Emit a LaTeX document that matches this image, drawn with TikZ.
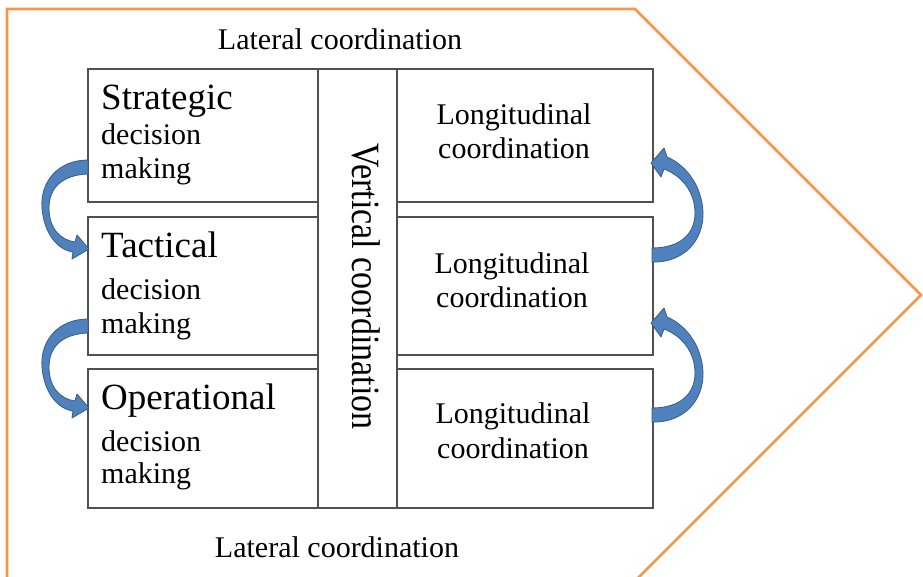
\documentclass[tikz,border=0pt]{standalone}
\usepackage{fontspec}
\newfontfamily\timesface{Liberation Serif}
\usetikzlibrary{calc}

\definecolor{frameorange}{HTML}{F79646}
\definecolor{bendfill}{HTML}{4F81BD}
\definecolor{bendedge}{HTML}{385D8A}
\definecolor{cellline}{HTML}{505050}

\begin{document}
\begin{tikzpicture}[
  x=1pt, y=-1pt,
  cell/.style={draw=cellline, line width=1.3pt, inner sep=0pt, outer sep=0pt},
  bigtext/.style={font=\timesface\fontsize{37}{40}\selectfont, inner sep=0pt, anchor=base west},
  smalltext/.style={font=\timesface\fontsize{30}{34}\selectfont, inner sep=0pt, anchor=base west},
  centertext/.style={font=\timesface\fontsize{30}{34}\selectfont, inner sep=0pt, anchor=base},
  bandarrow/.style={fill=bendfill, draw=bendedge, line width=0.8pt, line join=round},
  % curved block arrow bulging to the left: tail at the top, head at the bottom
  leftbend/.pic={
    \path[bandarrow] (0,0) .. controls (-30,0) and (-48,22) .. (-46,48)
      .. controls (-44,74) and (-30,90) .. (-15,92)
      -- (-16,99) -- (1,89) -- (-11,75) -- (-13,82)
      .. controls (-28,80) and (-39,68) .. (-39,48)
      .. controls (-39,28) and (-26,15) .. (0,14) -- cycle;
  },
  % curved block arrow bulging to the right: tail at the bottom, head at the top
  rightbend/.pic={
    \path[bandarrow] (0,0) .. controls (32,1) and (52,-22) .. (51,-50)
      .. controls (50,-74) and (36,-96) .. (15,-105)
      -- (12,-114) -- (-1,-99) -- (9,-85) -- (12,-93)
      .. controls (30,-86) and (43,-70) .. (43,-49)
      .. controls (43,-28) and (28,-14) .. (0,-14) -- cycle;
  }
]
\useasboundingbox (0,0) rectangle (923,577);

% pentagon-shaped outline
\draw[frameorange, line width=2.6pt, line join=miter]
  (7,590) -- (7,9) -- (635,9) -- (921,295) -- (635,581) -- (7,581);

% left column: decision levels
\node[cell, minimum width=230pt, minimum height=133pt] (strat) at (203,135.5) {};
\node[cell, minimum width=230pt, minimum height=138pt] (tact)  at (203,286) {};
\node[cell, minimum width=230pt, minimum height=139pt] (oper)  at (203,438.5) {};

% middle column
\node[cell, minimum width=79pt, minimum height=439pt] (vert) at (357.5,288.5) {};

% right column
\node[cell, minimum width=256pt, minimum height=133pt] (lon1) at (525,135.5) {};
\node[cell, minimum width=256pt, minimum height=138pt] (lon2) at (525,286) {};
\node[cell, minimum width=256pt, minimum height=139pt] (lon3) at (525,438.5) {};

% captions
\node[centertext] (lattop) at (340,50) {Lateral coordination};
\node[centertext] (latbot) at (337,557) {Lateral coordination};

\node[bigtext]   (stratA) at (101,109.3) {Strategic};
\node[smalltext] (stratB) at (101,145) {decision};
\node[smalltext] (stratC) at (101,179) {making};

\node[bigtext]   (tactA) at (101,258) {Tactical};
\node[smalltext] (tactB) at (101,299) {decision};
\node[smalltext] (tactC) at (101,333) {making};

\node[bigtext]   (operA) at (101,409) {Operational};
\node[smalltext] (operB) at (101,451) {decision};
\node[smalltext] (operC) at (101,483) {making};

\node[centertext] (lon1A) at (514,125) {Longitudinal};
\node[centertext] (lon1B) at (514,159) {coordination};
\node[centertext] (lon2A) at (512,273) {Longitudinal};
\node[centertext] (lon2B) at (512,307) {coordination};
\node[centertext] (lon3A) at (513,423) {Longitudinal};
\node[centertext] (lon3B) at (513,458) {coordination};

\node[font=\timesface\fontsize{34}{38}\selectfont, inner sep=0pt, anchor=base, rotate=-90]
  (verttext) at (352,286.5) {\scalebox{1}[1.18]{Vertical coordination}};

% curved arrows between the levels
\pic at ($(strat.north west)+(0,91)$) {leftbend};
\pic at ($(tact.north west)+(0,102)$) {leftbend};
\pic at ($(lon2.north east)+(-1,45)$) {rightbend};
\pic at ($(lon3.north east)+(-1,53)$) {rightbend};
\end{tikzpicture}
\end{document}
